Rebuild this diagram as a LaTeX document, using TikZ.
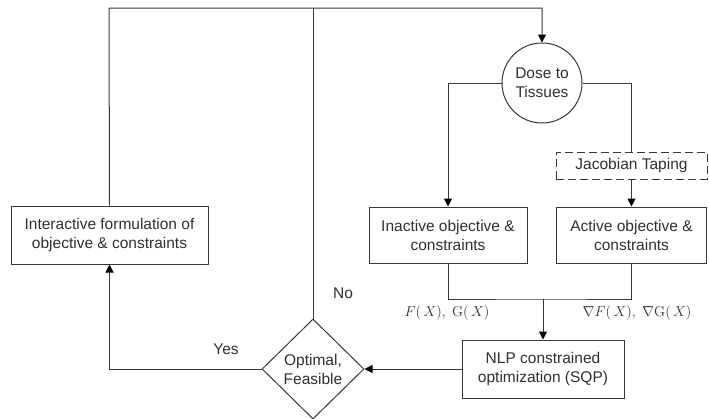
\documentclass[tikz,border=0pt]{standalone}
\usepackage[no-math]{fontspec}
\setmainfont{Liberation Sans}
\usetikzlibrary{arrows.meta,shapes.geometric,calc}
\definecolor{ln}{HTML}{383838}
\definecolor{tx}{HTML}{303030}
\begin{document}
\begin{tikzpicture}[x=1pt,y=-1pt,
  every node/.style={text=tx, font=\fontsize{15.5}{19}\selectfont},
  box/.style={draw=ln, line width=1pt, rectangle, inner sep=0pt, align=center},
  dbox/.style={box, dashed, dash pattern=on 8pt off 4pt},
  conn/.style={draw=ln, line width=1pt},
  arr/.style={conn, -{Triangle[length=8pt,width=8pt,color=black]}},
  lab/.style={inner sep=0pt},
  mlab/.style={font=\fontsize{14.5}{16}\selectfont, inner sep=0pt}
]
\useasboundingbox (0,0) rectangle (709,418);
\node[box, minimum width=197pt, minimum height=58pt] (inter) at (109.5,235) {Interactive formulation of\\objective \& constraints};
\node[draw=ln, line width=1pt, circle, minimum size=80pt, inner sep=0pt, align=center] (dose) at (542,83) {Dose to\\Tissues};
\node[dbox, minimum width=151pt, minimum height=27pt] (jac) at (631.5,165.5) {Jacobian Taping};
\node[box, minimum width=158pt, minimum height=56pt] (inact) at (448,235) {Inactive objective \&\\constraints};
\node[box, minimum width=150pt, minimum height=56pt] (act) at (631.5,235) {Active objective \&\\constraints};
\node[box, minimum width=162pt, minimum height=58pt] (nlp) at (543,369) {NLP constrained\\optimization (SQP)};
\node[draw=ln, line width=1pt, diamond, minimum width=102pt, minimum height=100pt, inner sep=0pt, align=center] (dia) at (313,369) {Optimal,\\Feasible};
\coordinate (tl) at (109,8);
\coordinate (tn) at (313,8);
\coordinate (mg) at (543,299);
\draw[arr] (inter.north) -- (tl) -| (dose.north);
\draw[conn] (dia.north) -- (tn);
\draw[arr] (dose.west) -| (inact.north);
\draw[conn] (dose.east) -| (jac.north);
\draw[arr] (jac.south) -- (act.north);
\draw[conn] (inact.south) |- (mg) -| (act.south);
\draw[arr] (mg) -- (nlp.north);
\draw[arr] (nlp.west) -- (dia.east);
\draw[arr] (dia.west) -| (inter.south);
\node[lab] (no) at (343,293) {No};
\node[lab] (yes) at (226,349) {Yes};
\node[mlab] (fg) at (447,313) {$F(\,X),\ \mathrm{G}(\,X)$};
\node[mlab] (dfg) at (637,313) {$\nabla F(\,X),\ \nabla\mathrm{G}(\,X)$};
\end{tikzpicture}
\end{document}
